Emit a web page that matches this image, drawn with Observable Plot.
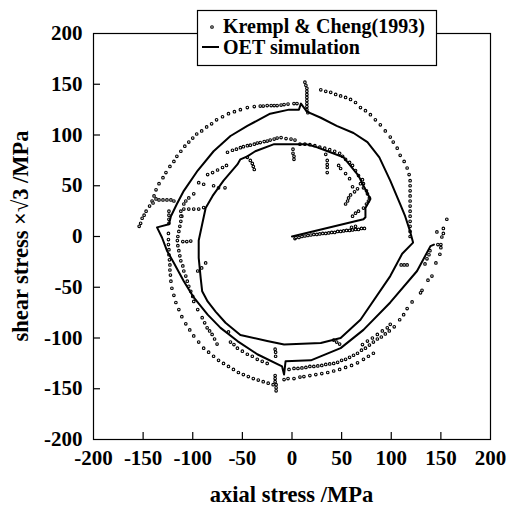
<!DOCTYPE html>
<html>
<head>
<meta charset="utf-8">
<script src="https://cdn.jsdelivr.net/npm/d3@7"></script>
<script src="https://cdn.jsdelivr.net/npm/@observablehq/plot@0.6"></script>
<style>
  html, body { margin: 0; padding: 0; background: white; }
  #chart { position: relative; width: 515px; height: 509px; }
</style>
</head>
<body>
<div id="chart"></div>
<script>
// ---- tick labels / axis text ----
const xTicks = [-200, -150, -100, -50, 0, 50, 100, 150, 200];
const yTicks = [-200, -150, -100, -50, 0, 50, 100, 150, 200];
const xInnerTicks = [-150, -100, -50, 0, 50, 100, 150];
const yInnerTicks = [-150, -100, -50, 0, 50, 100, 150];
const xLabel = "axial stress /MPa";
const yLabel = "shear stress ×√3 /MPa";
const legendExp = "Krempl & Cheng(1993)";
const legendSim = "OET simulation";

// ---- Krempl & Cheng (1993) experimental points [axial, shear×√3] ----
const expRadial = [[3,-2],[4,-1],[7,-1],[10,0],[13,0.5],[16,1],[19,1.5],[22,2],[25,2],[28,2.5],[31,3],[34,3],[37,3.5],[40,4],[43,4],[46,5],[49,5],[52,5.5],[55,6],[58,6],[61,6.5],[64,7],[67,7],[70,8],[73,8],[60,9],[64,10]];
const expInnerRight = [[61,20],[64,23],[67,25],[72,28],[75,32],[77,35],[78,38],[76,42],[75,45],[72,48],[72,52],[71,56],[67,60],[64,65],[61,70],[58,73],[54,76],[51,79],[48,82],[43,84],[38,85.5],[33,87],[28,88],[23,89.5],[18,90.5],[13,91],[8,91],
  [34,81],[35.5,75],[35.5,71],[35.5,68],[35.5,63],[47,70],[49,67],[54,62],[58,57],[61,49],[63,44],[59,41],[57,38],[56,35],[54,32],[66,47],[69,52]];
const expTopInner = [[3,95],[-1,96],[-6,96.5],[-11,97.5],[-15,97],[-18,96],[-22,95],[-25,94],[-28,93.5],[-32,92.5],[-35,92],[-38,91],[-42,90],[-45,89.5],[-49,88.5],[-52,87.5],[-56,86],[-60,85],[-65,83],
  [1,86],[1,82],[2,79],[2,76],[-45,78],[-42,75],[-40,72],[-39,69],[-38,66]];
const expUpperLeftMid = [[-85,61],[-80,63],[-75,65.5],[-70,68],[-66,70],[-94,53],[-89,51.5],[-79,50],[-74,48],[-67.5,48],
  [-109,27],[-104,27],[-99,27],[-94,27],[-89,28.5],[-111,20],[-109,32],[-107,35],[-104,38],[-99,42]];
const expLowerLeftMid = [[-112,25],[-112,20],[-112,15],[-113,10],[-114,5],[-115,0],[-115.5,-4],[-115,-9],[-114,-14],[-113,-19],[-112,-24],[-110,-29],[-109,-34],[-107,-39],[-105.5,-44],[-104,-49],[-102,-54],[-100,-59],[-99,-64],[-95,-72],[-90.5,-80],[-88,-85],[-85.5,-90],[-83,-93],[-80.5,-96.5],[-78,-101],[-75.5,-106],
  [-110,-5],[-106,-5],[-102,-4.5],[-95,-34],[-91,-31],[-87,-26],[-64,-94],
  [-62,-104],[-58.5,-106.5],[-55,-110],[-50,-113],[-45,-116],[-40,-118],[-35,-121],[-30,-123],[-25,-125],
  [-17,-111],[-16.5,-114],[-16.5,-118]];
const expOuterTop = [[13,152],[14,149],[15,146],[15,143],[15,140],[15,137],[15,134],[15,131],[15,128],[15,125],[16,122],
  [5,131],[2,131],[-4,130.5],[-8,130],[-11,129.5],[-15,129],[-18,129],[-21,129],[-25,129],[-29,128.5],[-32,128.5],[-38,128],[-45,127],
  [-52,125],[-58,123],[-64,121],[-70,118],[-76,115],[-81,111],[-86,108],[-91,104],[-96,101],[-100,97],[-104,93],[-108,89],[-112,84],[-116,79],[-119,74],[-123,69],[-127,63],[-130,58],[-134,52],[-137,46],[-139,40]];
const expLeftCluster = [[-141,35],[-143.5,30],[-147,25],[-149,21],[-151,18],[-152.5,13],[-154,10],[-137,37],[-140,33],
  [-134,36],[-130,36],[-126,36],[-122,36],[-119,35],[-124,25],[-124,21],[-124,17],[-124,13]];
const expOuterLowerLeft = [[-124.5,3],[-124.5,-3],[-124.5,-8],[-124,-13],[-124,-18],[-123.5,-23],[-123,-28],[-123,-33],[-122.5,-38],[-122,-44],[-121,-51],[-119,-58],[-117,-65],[-114,-72],[-111,-79],[-107,-86],[-103,-92],[-99,-98],[-94,-104],[-89,-110],[-84,-114],[-79,-118],[-74,-122],[-69,-125],[-64,-128],[-59,-131],[-54,-134],[-49,-136],[-44,-138],[-39,-140],[-34,-141.5],[-29,-143],[-24,-144.5],[-19,-146],
  [-17,-137],[-17,-140],[-17,-143],[-16,-146],[-16,-149],[-16,-152]];
const expBottom = [[-3,-131],[2,-130],[6,-130],[10,-129.5],[14,-129],[18,-128],[22,-128],[26,-127.5],[30,-127],[34,-126],[38,-125.5],[42,-125],[46,-124],[50,-122],[54,-121],[58,-119],[62,-117],[66,-115],
  [70,-112],[74,-110],[78,-107],[82,-104],[86,-101],[90,-99],[94,-96],[98,-93],[103,-89],
  [42,-102],[45,-104],[48,-106]];
const expOuterBottom = [[-8,-141],[-4,-140],[2,-140],[8,-138.5],[12,-138],[18,-137],[24,-136],[30,-135],[36,-134],[42,-132.5],[48,-131],[54,-129],[60,-127],[66,-124.5],[72,-121],[77,-118],[82,-115]];
const expOuterRight = [[29,144.5],[34,143],[39,142],[44,140],[49,138.5],[54,137],[59,135],[64,132],[69,127],[74,124],[79,120],[84,115],[89,110],[94,104],[99,98],[102,93],[106,87],[109,80],[113,74],[116,67.5],[118,61],[119,55],
  [119,50],[119,45],[119,40],[119,35],[119,30],[119,25],[119,20],[119,15],[119,10],[119,5],[119,0]];
const expLowerRight = [[156,17],[152.5,8],[152.5,3],[151,-0.5],[146,4.5],[150,-8],[150,-11],[149,-17.5],[145,-26],[141,-39],[137,-43],[131,-53],[129.5,-55.5],[121,-64.5],[116,-71],[112.5,-77],[108.5,-82],
  [99,-86.5],[96,-90],[91,-93],[86,-96.5],[81,-100],[76,-103],[71,-106.5],
  [139,-14],[138,-18],[136,-22],[134,-27],[147,-8],[110,-28],[113,-28],[116,-28]];

// ---- OET simulation path ----
const simPath = [[0,0],[72,17],[74,19],[74,28],[79,37],[72,50],[67,60],[52,78],[36,84],[22,89],[14,91],[-8,91],[-18,91],[-37,84],[-45,79],[-52,76],[-55,71],[-69,55],[-80,40],[-87,28],[-90.5,12],[-94,-4],[-94,-21],[-92,-41],[-90.5,-54],[-85,-64],[-77,-74],[-67,-85],[-52,-97],[-25,-103],[-8,-106.5],[29,-105],[49,-100],[69,-82],[99,-39],[111,-17],[122,-6],
  [119,5],[114,20],[109,32],[99,55],[88,78],[76,93],[62,102],[45,109],[29,117],[15,123],[9,131],[7,125],[-3,125],[-22,121],[-45,109],[-62,99],[-79,84],[-95,65],[-109,45],[-116,32],[-122,20],[-124,12],[-136,9],[-131,-1],[-126,-14],[-119,-26],[-109,-44],[-99,-60],[-85,-77],[-72,-90],[-55,-103],[-35,-116],[-10,-128],[-8,-136],[-6.5,-123],[19,-122],[49,-110],[72,-92],[99,-65],[126,-34],[139.5,-9.5],[143,-8]];

const expPoints = [].concat(expRadial, expInnerRight, expTopInner, expUpperLeftMid, expLowerLeftMid,
  expOuterTop, expLeftCluster, expOuterLowerLeft, expBottom, expOuterBottom, expOuterRight, expLowerRight)
  .map(([x, y]) => ({x, y}));
const simData = simPath.map(([x, y]) => ({x, y}));

const W = 515, H = 509, mL = 93, mR = 25, mT = 33, mB = 70;
const innerW = W - mL - mR, innerH = H - mT - mB;
const font = "'Liberation Serif', 'Times New Roman', serif";
const fsTick = 21, fsTitle = 22.5, fsLegend = 20;

const plot = Plot.plot({
  width: W, height: H,
  marginLeft: mL, marginRight: mR, marginTop: mT, marginBottom: mB,
  x: {domain: [-200, 200], label: null},
  y: {domain: [-200, 200], label: null},
  style: {fontFamily: font, fontSize: fsTick + "px", fontWeight: "bold", color: "black", background: "white"},
  marks: [
    Plot.frame({stroke: "black", strokeWidth: 1.2}),
    Plot.ruleX(xInnerTicks, {x: d => d, insetTop: innerH - 7, stroke: "black", strokeWidth: 1.2}),
    Plot.ruleY(yInnerTicks, {y: d => d, insetRight: innerW - 7, stroke: "black", strokeWidth: 1.2}),
    Plot.axisX({ticks: xTicks, tickSize: 0, tickPadding: 11, tickFormat: d => String(d), label: null, fontSize: fsTick}),
    Plot.axisY({ticks: yTicks, tickSize: 0, tickPadding: 11, tickFormat: d => String(d), label: null, fontSize: fsTick}),
    Plot.dot(expPoints, {x: "x", y: "y", r: 1.3, stroke: "black", strokeWidth: 1.1, fill: "white"}),
    Plot.line(simData, {x: "x", y: "y", stroke: "black", strokeWidth: 2, curve: "linear"})
  ]
});
document.getElementById("chart").appendChild(plot);

const svg = d3.select(plot);
// axis titles
const titles = svg.append("g").attr("font-family", font).attr("font-size", fsTitle).attr("font-weight", "bold")
  .attr("fill", "black").attr("text-anchor", "middle");
titles.append("text").attr("x", mL + innerW / 2).attr("y", 502).text(xLabel);
titles.append("text").attr("transform", `translate(28,${mT + innerH / 2}) rotate(-90)`).text(yLabel);

// legend box overlapping the top frame
const lg = svg.append("g").attr("font-family", font).attr("font-size", fsLegend).attr("font-weight", "bold")
  .attr("fill", "black").attr("text-anchor", "start");
lg.append("rect").attr("x", 197.5).attr("y", 10.5).attr("width", 239).attr("height", 55)
  .attr("fill", "white").attr("stroke", "black").attr("stroke-width", 1.2);
lg.append("circle").attr("cx", 212).attr("cy", 27).attr("r", 1.3).attr("fill", "white").attr("stroke", "black").attr("stroke-width", 1.1);
lg.append("text").attr("x", 223).attr("y", 33).text(legendExp);
lg.append("line").attr("x1", 202).attr("x2", 219).attr("y1", 47).attr("y2", 47).attr("stroke", "black").attr("stroke-width", 2);
lg.append("text").attr("x", 223).attr("y", 54).text(legendSim);
</script>
</body>
</html>
